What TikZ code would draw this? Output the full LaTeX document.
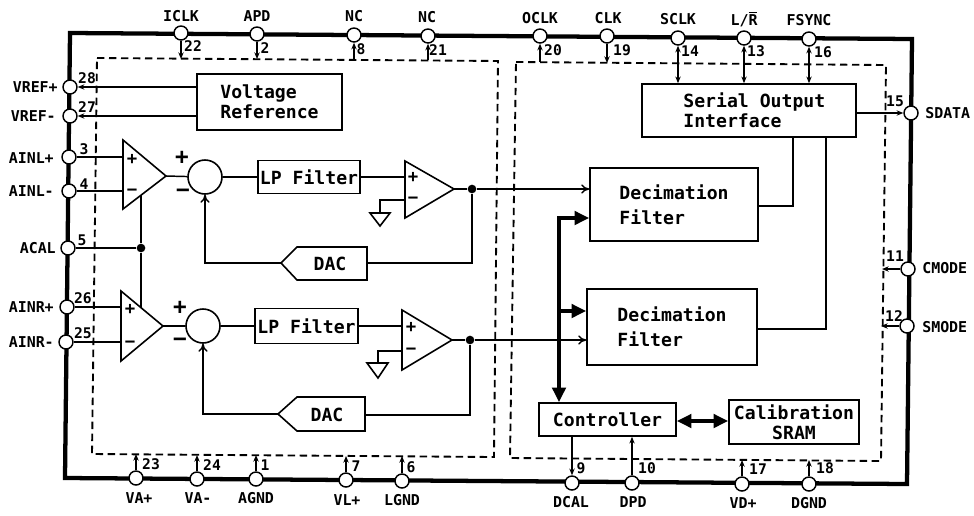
\documentclass[tikz,border=0pt]{standalone}
\usepackage{fontspec}
\setmainfont{DejaVu Sans Mono}[BoldFont={DejaVu Sans Mono Bold}]
\usetikzlibrary{arrows.meta}
\tikzset{
  pinnode/.style={circle,draw=black,fill=white,line width=1.1pt,minimum size=10.5pt,inner sep=0pt},
  pinlabel/.style={font=\bfseries\fontsize{11.2}{12}\selectfont,inner sep=0pt},
  pinnum/.style={font=\bfseries\fontsize{11}{12}\selectfont,inner sep=0pt},
  blockbox/.style={draw=black,line width=1.2pt,inner sep=0pt,font=\bfseries\fontsize{13.6}{15}\selectfont,align=left},
  plain/.style={font=\bfseries\fontsize{13.6}{15}\selectfont,inner sep=0pt},
  sign/.style={font=\bfseries\fontsize{17}{17}\selectfont,inner sep=0pt},
  ampsign/.style={font=\bfseries\fontsize{13}{13}\selectfont,inner sep=0pt},
  wire/.style={line width=1.1pt},
  outline/.style={line width=3.2pt,line join=miter},
  bus/.style={line width=3pt},
  dashbox/.style={line width=1.4pt,dash pattern=on 5.5pt off 3.5pt},
  amp/.style={draw=black,line width=1.2pt,fill=white,line join=miter},
  ptr/.style={wire,-{Stealth[length=5pt,width=4pt]}},
  ptrboth/.style={wire,{Stealth[length=5pt,width=4pt]}-{Stealth[length=5pt,width=4pt]}},
  openptr/.style={wire,-{To[length=6pt,width=7pt]}},
  busptr/.style={bus,-{Triangle[length=11pt,width=10pt]}},
  busboth/.style={bus,{Triangle[length=11pt,width=10pt]}-{Triangle[length=11pt,width=10pt]}},
  junction/.style={circle,fill=black,inner sep=0pt,minimum size=6.5pt}
}
\begin{document}
\begin{tikzpicture}[x=0.75pt,y=-0.75pt]
\useasboundingbox (0,0) rectangle (974,515);
% outer package outline
\draw[outline] (70,33) -- (912,39) -- (907,484) -- (65,478) -- cycle;
% dashed regions
\draw[dashbox] (97,58) -- (498,61) -- (494,457) -- (92,454) -- cycle;
\draw[dashbox] (516,62) -- (886,65) -- (881,461) -- (510,458) -- cycle;
% pins
\node[pinnode] (p22) at (181,33) {};
\node[pinnode] (p2) at (257,34) {};
\node[pinnode] (p8) at (354,35) {};
\node[pinnode] (p21) at (428,36) {};
\node[pinnode] (p20) at (540,36) {};
\node[pinnode] (p19) at (607,36) {};
\node[pinnode] (p14) at (678,38) {};
\node[pinnode] (p13) at (744,38) {};
\node[pinnode] (p16) at (809,39) {};
\node[pinnode] (p28) at (70,87) {};
\node[pinnode] (p27) at (70,116) {};
\node[pinnode] (p3) at (69,157) {};
\node[pinnode] (p4) at (69,191) {};
\node[pinnode] (p5) at (68,248) {};
\node[pinnode] (p26) at (67,307) {};
\node[pinnode] (p25) at (66,342) {};
\node[pinnode] (p15) at (911,113) {};
\node[pinnode] (p11) at (908,269) {};
\node[pinnode] (p12) at (907,326) {};
\node[pinnode] (p23) at (136,478) {};
\node[pinnode] (p24) at (197,479) {};
\node[pinnode] (p1) at (256,479) {};
\node[pinnode] (p7) at (346,480) {};
\node[pinnode] (p6) at (402,481) {};
\node[pinnode] (p9) at (572,483) {};
\node[pinnode] (p10) at (632,483) {};
\node[pinnode] (p17) at (742,484) {};
\node[pinnode] (p18) at (809,484) {};
% pin names
\node[pinlabel] (lICLK) at (181,16) {ICLK};
\node[pinlabel] (lAPD) at (257,16) {APD};
\node[pinlabel] (lNCa) at (354,16) {NC};
\node[pinlabel] (lNCb) at (427,17) {NC};
\node[pinlabel] (lOCLK) at (540,18) {OCLK};
\node[pinlabel] (lCLK) at (608,18) {CLK};
\node[pinlabel] (lSCLK) at (678,19) {SCLK};
\node[pinlabel] (lLR) at (744,19) {L/$\overline{\mbox{R}}$};
\node[pinlabel] (lFSYNC) at (809,20) {FSYNC};
\node[pinlabel,anchor=east] (lVRp) at (58,87) {VREF+};
\node[pinlabel,anchor=east] (lVRm) at (56,116) {VREF-};
\node[pinlabel,anchor=east] (lALp) at (54,158) {AINL+};
\node[pinlabel,anchor=east] (lALm) at (54,191) {AINL-};
\node[pinlabel,anchor=east] (lACAL) at (56,248) {ACAL};
\node[pinlabel,anchor=east] (lARp) at (54,307) {AINR+};
\node[pinlabel,anchor=east] (lARm) at (54,342) {AINR-};
\node[pinlabel,anchor=west] (lSDATA) at (925,113) {SDATA};
\node[pinlabel,anchor=west] (lCMODE) at (922,268) {CMODE};
\node[pinlabel,anchor=west] (lSMODE) at (922,327) {SMODE};
\node[pinlabel] (lVAp) at (139,498) {VA+};
\node[pinlabel] (lVAm) at (198,498) {VA-};
\node[pinlabel] (lAGND) at (256,498) {AGND};
\node[pinlabel] (lVLp) at (347,500) {VL+};
\node[pinlabel] (lLGND) at (402,500) {LGND};
\node[pinlabel] (lDCAL) at (571,502) {DCAL};
\node[pinlabel] (lDPD) at (633,502) {DPD};
\node[pinlabel] (lVDp) at (743,503) {VD+};
\node[pinlabel] (lDGND) at (809,503) {DGND};
% pin numbers
\node[pinnum] (n22) at (193,46) {22};
\node[pinnum] (n2) at (265,48) {2};
\node[pinnum] (n8) at (361,49) {8};
\node[pinnum] (n21) at (438,50) {21};
\node[pinnum] (n20) at (553,50) {20};
\node[pinnum] (n19) at (622,50) {19};
\node[pinnum] (n14) at (690,51) {14};
\node[pinnum] (n13) at (756,51) {13};
\node[pinnum] (n16) at (823,52) {16};
\node[pinnum] (n28) at (87,78) {28};
\node[pinnum] (n27) at (87,107) {27};
\node[pinnum] (n3) at (84,149) {3};
\node[pinnum] (n4) at (84,184) {4};
\node[pinnum] (n5) at (82,240) {5};
\node[pinnum] (n26) at (83,298) {26};
\node[pinnum] (n25) at (83,333) {25};
\node[pinnum] (n15) at (895,101) {15};
\node[pinnum] (n11) at (895,256) {11};
\node[pinnum] (n12) at (894,316) {12};
\node[pinnum] (n23) at (151,464) {23};
\node[pinnum] (n24) at (212,465) {24};
\node[pinnum] (n1) at (265,465) {1};
\node[pinnum] (n7) at (356,466) {7};
\node[pinnum] (n6) at (411,467) {6};
\node[pinnum] (n9) at (581,468) {9};
\node[pinnum] (n10) at (647,468) {10};
\node[pinnum] (n17) at (758,469) {17};
\node[pinnum] (n18) at (825,468) {18};
% blocks
\node[blockbox,minimum width=108.75pt,minimum height=42pt] (vref) at (269.5,102) {Voltage\\Reference};
\node[blockbox,minimum width=76.5pt,minimum height=24.75pt] (lp1) at (309,177) {LP Filter};
\node[blockbox,minimum width=77.25pt,minimum height=26.25pt] (lp2) at (306.5,326) {LP Filter};
\node[blockbox,minimum width=160.5pt,minimum height=39.75pt] (serial) at (749,110.5) {\hspace*{8pt}Serial Output\\\hspace*{8pt}Interface};
\node[blockbox,minimum width=126pt,minimum height=54.75pt,font=\bfseries\fontsize{13.6}{18.7}\selectfont] (dec1) at (674,204.5) {Decimation\\Filter};
\node[blockbox,minimum width=127.5pt,minimum height=57pt,font=\bfseries\fontsize{13.6}{18.7}\selectfont] (dec2) at (672,327) {Decimation\\Filter};
\node[blockbox,minimum width=102.75pt,minimum height=24.75pt] (ctrl) at (607.5,419.5) {Controller};
\node[blockbox,minimum width=97.5pt,minimum height=33pt,align=center] (sram) at (794,422) {Calibration\\SRAM};
% summing junctions
\node[circle,draw=black,line width=1.2pt,minimum size=25.5pt,inner sep=0pt] (sum1) at (205,177) {};
\node[circle,draw=black,line width=1.2pt,minimum size=25.5pt,inner sep=0pt] (sum2) at (203,326) {};
% amplifiers
\coordinate (a1t) at (123,140); \coordinate (a1b) at (123,209); \coordinate (a1o) at (166,176);
\coordinate (a2t) at (121,291); \coordinate (a2b) at (121,361); \coordinate (a2o) at (163,326);
\coordinate (b1t) at (405,161); \coordinate (b1b) at (405,218); \coordinate (b1o) at (454,189);
\coordinate (b2t) at (402,310); \coordinate (b2b) at (402,370); \coordinate (b2o) at (452,340);
\draw[amp] (a1t) -- (a1b) -- (a1o) -- cycle;
\draw[amp] (a2t) -- (a2b) -- (a2o) -- cycle;
\draw[amp] (b1t) -- (b1b) -- (b1o) -- cycle;
\draw[amp] (b2t) -- (b2b) -- (b2o) -- cycle;
\node[ampsign] (a1p) at (132,159) {+};
\node[ampsign] (a1m) at (132,192) {−};
\node[ampsign] (a2p) at (130,309) {+};
\node[ampsign] (a2m) at (130,344) {−};
\node[ampsign] (b1p) at (413,177) {+};
\node[ampsign] (b1m) at (413,200) {−};
\node[ampsign] (b2p) at (411,327) {+};
\node[ampsign] (b2m) at (411,351) {−};
\node[sign] (s1p) at (182,158) {+};
\node[sign] (s1m) at (183,193) {−};
\node[sign] (s2p) at (180,308) {+};
\node[sign] (s2m) at (180,342) {−};
% DACs
\coordinate (d1t) at (281,263); \coordinate (d2t) at (278,414);
\draw[line width=1.2pt,line join=miter] (d1t) -- (297,247) -- (367,247) -- (367,280) -- (297,280) -- cycle;
\draw[line width=1.2pt,line join=miter] (d2t) -- (297,397) -- (365,397) -- (365,431) -- (297,431) -- cycle;
\node[plain] (dac1) at (330,264) {DAC};
\node[plain] (dac2) at (327,415) {DAC};
\coordinate (d1r) at (367,263); \coordinate (d2r) at (365,415);
% ground symbols
\coordinate (g1) at (380,213); \coordinate (g2) at (378,363);
\coordinate (g1i) at (405,200); \coordinate (g2i) at (402,351);
\draw[wire] (g1i) -| (g1);
\draw[wire] (g2i) -| (g2);
\draw[line width=1.2pt] (370,213) -- (390,213) -- (380,226) -- cycle;
\draw[line width=1.2pt] (367,363) -- (388,363) -- (378,378) -- cycle;
% pin connectors to the dashed regions
\coordinate (d22) at (181,59); \coordinate (d2) at (257,59);
\coordinate (d8) at (354,60); \coordinate (d21) at (428,60);
\coordinate (d20) at (540,62); \coordinate (d19) at (607,63);
\coordinate (d23) at (136,454); \coordinate (d24) at (197,455);
\coordinate (d1) at (256,455); \coordinate (d7) at (346,456);
\coordinate (d6) at (402,456); \coordinate (d17) at (742,460);
\coordinate (d18) at (809,460); \coordinate (d11) at (882,269);
\coordinate (d12) at (881,326);
\draw[ptr] (p22) -- (d22);
\draw[ptr] (p2) -- (d2);
\draw[ptr] (d8) -- (p8);
\draw[ptr] (d21) -- (p21);
\draw[ptr] (d20) -- (p20);
\draw[ptr] (p19) -- (d19);
\draw[ptr] (p23) -- (d23);
\draw[ptr] (p24) -- (d24);
\draw[ptr] (p1) -- (d1);
\draw[ptr] (p7) -- (d7);
\draw[ptr] (p6) -- (d6);
\draw[ptr] (p17) -- (d17);
\draw[ptr] (p18) -- (d18);
\draw[ptr] (p11) -- (d11);
\draw[ptr] (p12) -- (d12);
% block connectors
\draw[ptrboth] (p14) -- (p14 |- serial.north);
\draw[ptrboth] (p13) -- (p13 |- serial.north);
\draw[ptrboth] (p16) -- (p16 |- serial.north);
\draw[ptr] (serial.east |- p15) -- (p15);
\draw[ptr] (vref.west |- p28) -- (p28);
\draw[ptr] (vref.west |- p27) -- (p27);
\draw[wire] (p3) -- (a1t |- p3);
\draw[wire] (p4) -- (a1t |- p4);
\draw[wire] (p26) -- (a2t |- p26);
\draw[wire] (p25) -- (a2t |- p25);
\node[junction] (jc) at (141,248) {};
\draw[wire] (p5) -- (jc);
\draw[wire] (141,195) -- (jc) -- (141,308);
\draw[wire] (a1o) -- (sum1);
\draw[wire] (a2o) -- (sum2);
\draw[wire] (sum1) -- (lp1);
\draw[wire] (sum2) -- (lp2);
\draw[wire] (lp1.east) -- (b1t |- lp1.east);
\draw[wire] (lp2.east) -- (b2t |- lp2.east);
\node[junction] (j1) at (472,189) {};
\node[junction] (j2) at (470,340) {};
\draw[wire] (b1o) -- (j1);
\draw[wire] (b2o) -- (j2);
\draw[openptr] (j1) -- (dec1.west |- j1);
\draw[openptr] (j2) -- (dec2.west |- j2);
\draw[wire] (j1) |- (d1r);
\draw[wire] (j2) |- (d2r);
\draw[openptr] (d1t) -| (sum1.south);
\draw[openptr] (d2t) -| (sum2.south);
\draw[wire] (serial.south -| 793,0) |- (dec1.east |- 0,206);
\draw[wire] (serial.south -| 826,0) |- (dec2.east |- 0,329);
% thick buses
\coordinate (busTop) at (559,218);
\coordinate (busEnd) at (dec1.west |- busTop);
\draw[busboth,line join=miter] (busEnd) -- (busTop) -- (busTop |- ctrl.north);
\draw[busptr] (busTop |- 0,311) -- (dec2.west |- 0,311);
\draw[busboth] (ctrl.east |- 0,421) -- (sram.west |- 0,421);
\draw[ptr] (ctrl.south -| p9) -- (p9);
\draw[ptr] (p10) -- (ctrl.south -| p10);
\end{tikzpicture}
\end{document}
